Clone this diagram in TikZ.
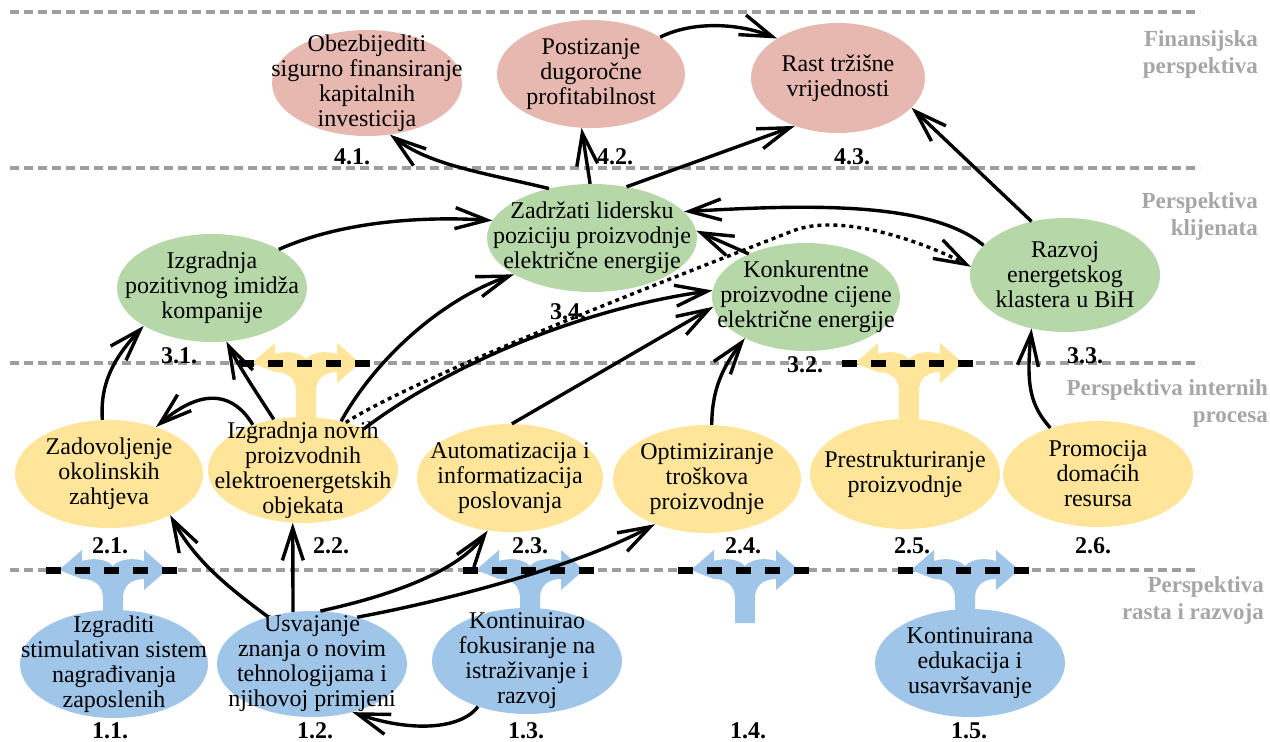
\documentclass[tikz,border=0pt]{standalone}
\usepackage{fontspec}
\setmainfont{Liberation Serif}
\usetikzlibrary{arrows.meta,shapes.geometric}
\definecolor{pinkf}{HTML}{E6B8AF}
\definecolor{greenf}{HTML}{B6D7A8}
\definecolor{yellowf}{HTML}{FFE599}
\definecolor{bluef}{HTML}{9FC5E8}
\definecolor{greyl}{HTML}{9E9E9E}
\definecolor{greyt}{HTML}{A6A6A6}
\tikzset{
  greydash/.style={draw=greyl, line width=4pt, dash pattern=on 9pt off 5pt},
  blackdash/.style={draw=black, line width=7pt, dash pattern=on 14.5pt off 14.5pt},
  goal/.style={shape=ellipse, inner sep=0pt, draw=none},
  txt/.style={font=\fontsize{24}{25}\selectfont, align=center, inner sep=0pt},
  num/.style={font=\fontsize{24}{25}\selectfont\bfseries, inner sep=0pt},
  persp/.style={font=\fontsize{23}{27}\selectfont\bfseries, text=greyt, align=right, inner sep=0pt, anchor=east},
  conn/.style={draw=black, line width=3.4pt, -{Straight Barb[length=32pt,width=21pt]}},
  dotconn/.style={conn, dash pattern=on 4pt off 4pt},
}
\newcommand\forkarrow[4]{%
  \begin{scope}[shift={(#1,#2)}]
    \fill[#3] (-54,0) -- (-31,-20) -- (-31,-9) .. controls (-22,-12) and (-7,-12) .. (0,-4)
      .. controls (7,-12) and (22,-12) .. (31,-9) -- (31,-20) -- (54,0) -- (31,20) -- (31,9)
      .. controls (18,9) and (10,16) .. (10,28) -- (10,#4) -- (-10,#4) -- (-10,28)
      .. controls (-10,16) and (-18,9) .. (-31,9) -- cycle;
    \draw[blackdash] (-67,0) -- (64,0);
  \end{scope}}
\newcommand\goalnode[7]{%
  \node[goal, fill=#6, minimum width=2*#4pt, minimum height=2*#5pt] (#1) at (#2,#3) {};
  \node[txt] (#1t) at (#1.center) {#7};}
\begin{document}
\begin{tikzpicture}[x=1pt,y=-1pt]
\useasboundingbox (0,0) rectangle (1270,742);
% perspective separators
\draw[greydash] (10,12) -- (1200,12);
\draw[greydash] (10,168) -- (1200,168);
\draw[greydash] (10,363) -- (1200,363);
\draw[greydash] (10,570) -- (1200,570);
% fork arrows
\forkarrow{113}{570}{bluef}{50}
\forkarrow{530}{570}{bluef}{50}
\forkarrow{745}{570}{bluef}{53}
\forkarrow{965}{570}{bluef}{50}
\forkarrow{306}{363}{yellowf}{60}
\forkarrow{909}{363}{yellowf}{60}
% goals
\goalnode{n41}{367}{83}{95}{53}{pinkf}{Obezbijediti\\sigurno finansiranje\\kapitalnih\\investicija}
\goalnode{n42}{591}{74}{94}{54}{pinkf}{Postizanje\\dugoročne\\profitabilnost}
\goalnode{n43}{838}{78}{87}{55}{pinkf}{Rast tržišne\\vrijednosti}
\goalnode{n31}{212}{288}{95}{54}{greenf}{Izgradnja\\pozitivnog imidža\\kompanije}
\goalnode{n34}{592}{238}{105}{54}{greenf}{Zadržati lidersku\\poziciju proizvodnje\\električne energije}
\goalnode{n32}{806}{297}{94}{54}{greenf}{Konkurentne\\proizvodne cijene\\električne energije}
\goalnode{n33}{1065}{275}{95}{57}{greenf}{Razvoj\\energetskog\\klastera u BiH}
\goalnode{n21}{109}{474}{94}{54}{yellowf}{Zadovoljenje\\okolinskih\\zahtjeva}
\goalnode{n22}{303}{470}{95}{53}{yellowf}{Izgradnja novih\\proizvodnih\\elektroenergetskih\\objekata}
\goalnode{n23}{510}{478}{93}{54}{yellowf}{Automatizacija i\\informatizacija\\poslovanja}
\goalnode{n24}{707}{479}{94}{54}{yellowf}{Optimiziranje\\troškova\\proizvodnje}
\goalnode{n25}{905}{474}{95}{55}{yellowf}{Prestrukturiranje\\proizvodnje}
\goalnode{n26}{1098}{474}{95}{53}{yellowf}{Promocija\\domaćih\\resursa}
\goalnode{n11}{114}{664}{94}{54}{bluef}{Izgraditi\\stimulativan sistem\\nagrađivanja\\zaposlenih}
\goalnode{n12}{312}{664}{95}{53}{bluef}{Usvajanje\\znanja o novim\\tehnologijama i\\njihovoj primjeni}
\goalnode{n13}{527}{661}{95}{53}{bluef}{Kontinuirao\\fokusiranje na\\istraživanje i\\razvoj}
\goalnode{n15}{970}{663}{95}{54}{bluef}{Kontinuirana\\edukacija i\\usavršavanje}
% numbers
\node[num] (l41) at (352,157) {4.1.};
\node[num] (l42) at (615,157) {4.2.};
\node[num] (l43) at (852,157) {4.3.};
\node[num] (l31) at (179,356) {3.1.};
\node[num] (l34) at (568,312) {3.4.};
\node[num] (l32) at (805,365) {3.2.};
\node[num] (l33) at (1085,356) {3.3.};
\node[num] (l21) at (110,546) {2.1.};
\node[num] (l22) at (331,546) {2.2.};
\node[num] (l23) at (530,546) {2.3.};
\node[num] (l24) at (743,546) {2.4.};
\node[num] (l25) at (912,546) {2.5.};
\node[num] (l26) at (1093,546) {2.6.};
\node[num] (l11) at (110,731) {1.1.};
\node[num] (l12) at (315,731) {1.2.};
\node[num] (l13) at (526,731) {1.3.};
\node[num] (l14) at (748,731) {1.4.};
\node[num] (l15) at (969,731) {1.5.};
% perspectives
\node[persp] (p4) at (1258,54) {Finansijska\\perspektiva};
\node[persp] (p3) at (1258,216) {Perspektiva\\klijenata};
\node[persp] (p2) at (1268,403) {Perspektiva internih\\procesa};
\node[persp] (p1) at (1264,600) {Perspektiva\\rasta i razvoja};
% connectors
\draw[conn] (n42.28) .. controls (690,22) and (735,22) .. (n43.147);
\draw[conn] (n34.131) .. controls (480,172) and (430,165) .. (n41.-66);
\draw[conn] (n34.92) -- (n42.260);
\draw[conn] (n34.56) -- (n43.228);
\draw[conn] (n33.122) -- (n43.-22);
\draw[conn] (n33.160) .. controls (930,200) and (800,205) .. (n34.16);
\draw[conn] (n32.143) -- (n34.4);
\draw[dotconn] (n22.48) .. controls (420,375) and (680,275) .. (790,232) .. controls (840,210) and (930,245) .. (n33.175);
\draw[conn] (n31.30) .. controls (340,222) and (420,216) .. (n34.170);
\draw[conn] (n22.52) .. controls (375,360) and (440,300) .. (n34.205);
\draw[conn] (n22.34) .. controls (430,378) and (560,312) .. (n32.176);
\draw[conn] (n23.88) -- (n32.186);
\draw[conn] (n24.85) .. controls (712,390) and (722,368) .. (n32.214);
\draw[conn] (n21.97) .. controls (100,385) and (112,360) .. (n31.209);
\draw[conn] (n22.120) .. controls (258,395) and (240,368) .. (n31.285);
\draw[conn] (n22.138) .. controls (235,395) and (205,385) .. (n21.45);
\draw[conn] (n12.133) .. controls (225,585) and (195,560) .. (n21.326);
\draw[conn] (n12.110) -- (n22.259);
\draw[conn] (n12.81) .. controls (380,598) and (455,575) .. (n23.247);
\draw[conn] (n12.46) .. controls (450,600) and (580,565) .. (n24.221);
\draw[conn] (n13.223) .. controls (460,730) and (410,732) .. (n12.310);
\draw[conn] (n26.136) .. controls (1030,405) and (1026,385) .. (n33.238);
\end{tikzpicture}
\end{document}
